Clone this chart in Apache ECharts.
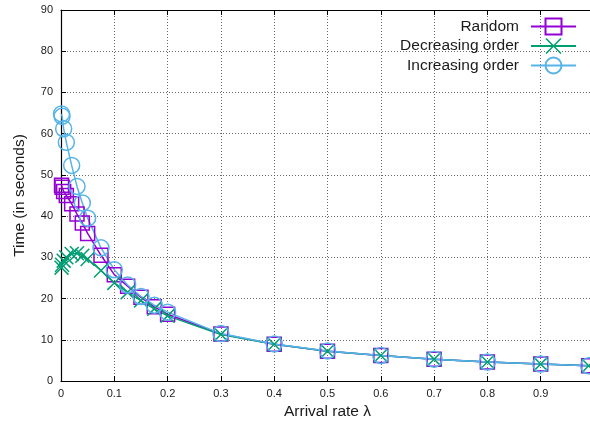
<!DOCTYPE html>
<html>
<head>
<meta charset="utf-8">
<script src="https://cdn.jsdelivr.net/npm/echarts@6/dist/echarts.min.js"></script>
<style>
  html, body { margin: 0; padding: 0; background: #fff; }
  #chart { width: 590px; height: 423px; }
</style>
</head>
<body>
<div id="chart"></div>
<script>
// Arrival rates (lambda) at which each ordering was measured
const lambdas = [0.001, 0.002, 0.005, 0.01, 0.02, 0.03, 0.04, 0.05, 0.075, 0.1, 0.125, 0.15, 0.175, 0.2,
                 0.3, 0.4, 0.5, 0.6, 0.7, 0.8, 0.9, 0.99];

// Time in seconds for each ordering
const randomTimes     = [47.5, 47.0, 46.0, 45.0, 43.0, 40.5, 38.3, 35.8, 30.5, 25.8, 23.0, 20.3, 18.0, 16.2,
                         11.4, 8.9, 7.2, 6.2, 5.3, 4.6, 4.1, 3.7];
const decreasingTimes = [27.5, 28.2, 29.2, 30.0, 30.8, 31.0, 30.4, 29.6, 26.8, 23.8, 21.5, 19.5, 17.5, 15.8,
                         11.3, 8.9, 7.2, 6.2, 5.3, 4.6, 4.1, 3.7];
const increasingTimes = [64.8, 64.2, 61.2, 57.9, 52.3, 47.2, 43.2, 39.5, 32.3, 27.0, 23.3, 20.5, 18.4, 16.7,
                         11.5, 9.0, 7.3, 6.2, 5.3, 4.6, 4.1, 3.7];

const seriesNames = ['Random', 'Decreasing order', 'Increasing order'];
const xTickLabels = ['0', '0.1', '0.2', '0.3', '0.4', '0.5', '0.6', '0.7', '0.8', '0.9'];
const yTickLabels = ['0', '10', '20', '30', '40', '50', '60', '70', '80', '90'];

const FONT = '"Liberation Sans", Arial, sans-serif';
const TEXT = '#1a1a1a';
// thin "x" glyph used as the marker of the decreasing-order series
const crossPath = 'path://M0,0.7 L0.7,0 L5,4.3 L9.3,0 L10,0.7 L5.7,5 L10,9.3 L9.3,10 L5,5.7 L0.7,10 L0,9.3 L4.3,5 Z';

const pairs = ys => lambdas.map((x, i) => [x, ys[i]]);

function lineSeries(name, ys, color, symbol, size, hollow) {
  return {
    name: name,
    type: 'line',
    data: pairs(ys),
    symbol: symbol,
    symbolSize: size,
    showAllSymbol: true,
    smooth: false,
    lineStyle: { color: color, width: 1.5 },
    itemStyle: hollow
      ? { color: 'rgba(0,0,0,0)', borderColor: color, borderWidth: 1.5 }
      : { color: color, borderWidth: 0 },
    emphasis: { disabled: true },
    animation: false
  };
}

const chart = echarts.init(document.getElementById('chart'), null, { renderer: 'canvas' });

chart.setOption({
  animation: false,
  textStyle: { fontFamily: FONT },
  grid: { left: 61, right: -4, top: 10, bottom: 42, containLabel: false, outerBoundsMode: 'none' },
  legend: {
    orient: 'vertical',
    align: 'right',
    right: 13,
    top: 17.5,
    padding: 0,
    itemWidth: 45,
    itemHeight: 20,
    itemGap: 2.5,
    data: seriesNames,
    textStyle: { fontFamily: FONT, fontSize: 15.5, color: TEXT, padding: [0, 7, 0, 0] },
    selectedMode: false
  },
  xAxis: [{
    type: 'value',
    min: 0, max: 1, interval: 0.1,
    name: 'Arrival rate λ',
    nameLocation: 'middle',
    nameGap: 22,
    nameTextStyle: { fontFamily: FONT, fontSize: 15.5, color: TEXT },
    axisLine: { show: true, onZero: false, lineStyle: { color: '#000', width: 1.2 } },
    axisTick: { show: true, inside: true, length: 5, lineStyle: { color: '#000' } },
    axisLabel: {
      fontFamily: FONT, fontSize: 11, color: TEXT, margin: 7,
      formatter: v => { const i = Math.round(v * 10); return xTickLabels[i] !== undefined ? xTickLabels[i] : ''; }
    },
    splitLine: { show: true, lineStyle: { color: '#444', type: [1, 2], width: 0.8 } }
  }, {
    type: 'value',
    position: 'top',
    min: 0, max: 1, interval: 0.1,
    axisLine: { show: true, onZero: false, lineStyle: { color: '#000', width: 1.2 } },
    axisTick: { show: true, inside: true, length: 5, lineStyle: { color: '#000' } },
    axisLabel: { show: false },
    splitLine: { show: false }
  }],
  yAxis: {
    type: 'value',
    min: 0, max: 90, interval: 10,
    name: 'Time (in seconds)',
    nameLocation: 'middle',
    nameGap: 33,
    nameRotate: 90,
    nameTextStyle: { fontFamily: FONT, fontSize: 15.5, color: TEXT },
    axisLine: { show: true, onZero: false, lineStyle: { color: '#000', width: 1.2 } },
    axisTick: { show: true, inside: true, length: 5, lineStyle: { color: '#000' } },
    axisLabel: {
      fontFamily: FONT, fontSize: 11, color: TEXT, margin: 8,
      formatter: v => { const i = Math.round(v / 10); return yTickLabels[i] !== undefined ? yTickLabels[i] : ''; }
    },
    splitLine: { show: true, lineStyle: { color: '#444', type: [1, 2], width: 0.8 } }
  },
  series: [
    lineSeries(seriesNames[0], randomTimes, '#9400d3', 'rect', 14, true),
    lineSeries(seriesNames[1], decreasingTimes, '#009e73', crossPath, 15, false),
    lineSeries(seriesNames[2], increasingTimes, '#56b4e9', 'circle', 16, true)
  ]
});
</script>
</body>
</html>
